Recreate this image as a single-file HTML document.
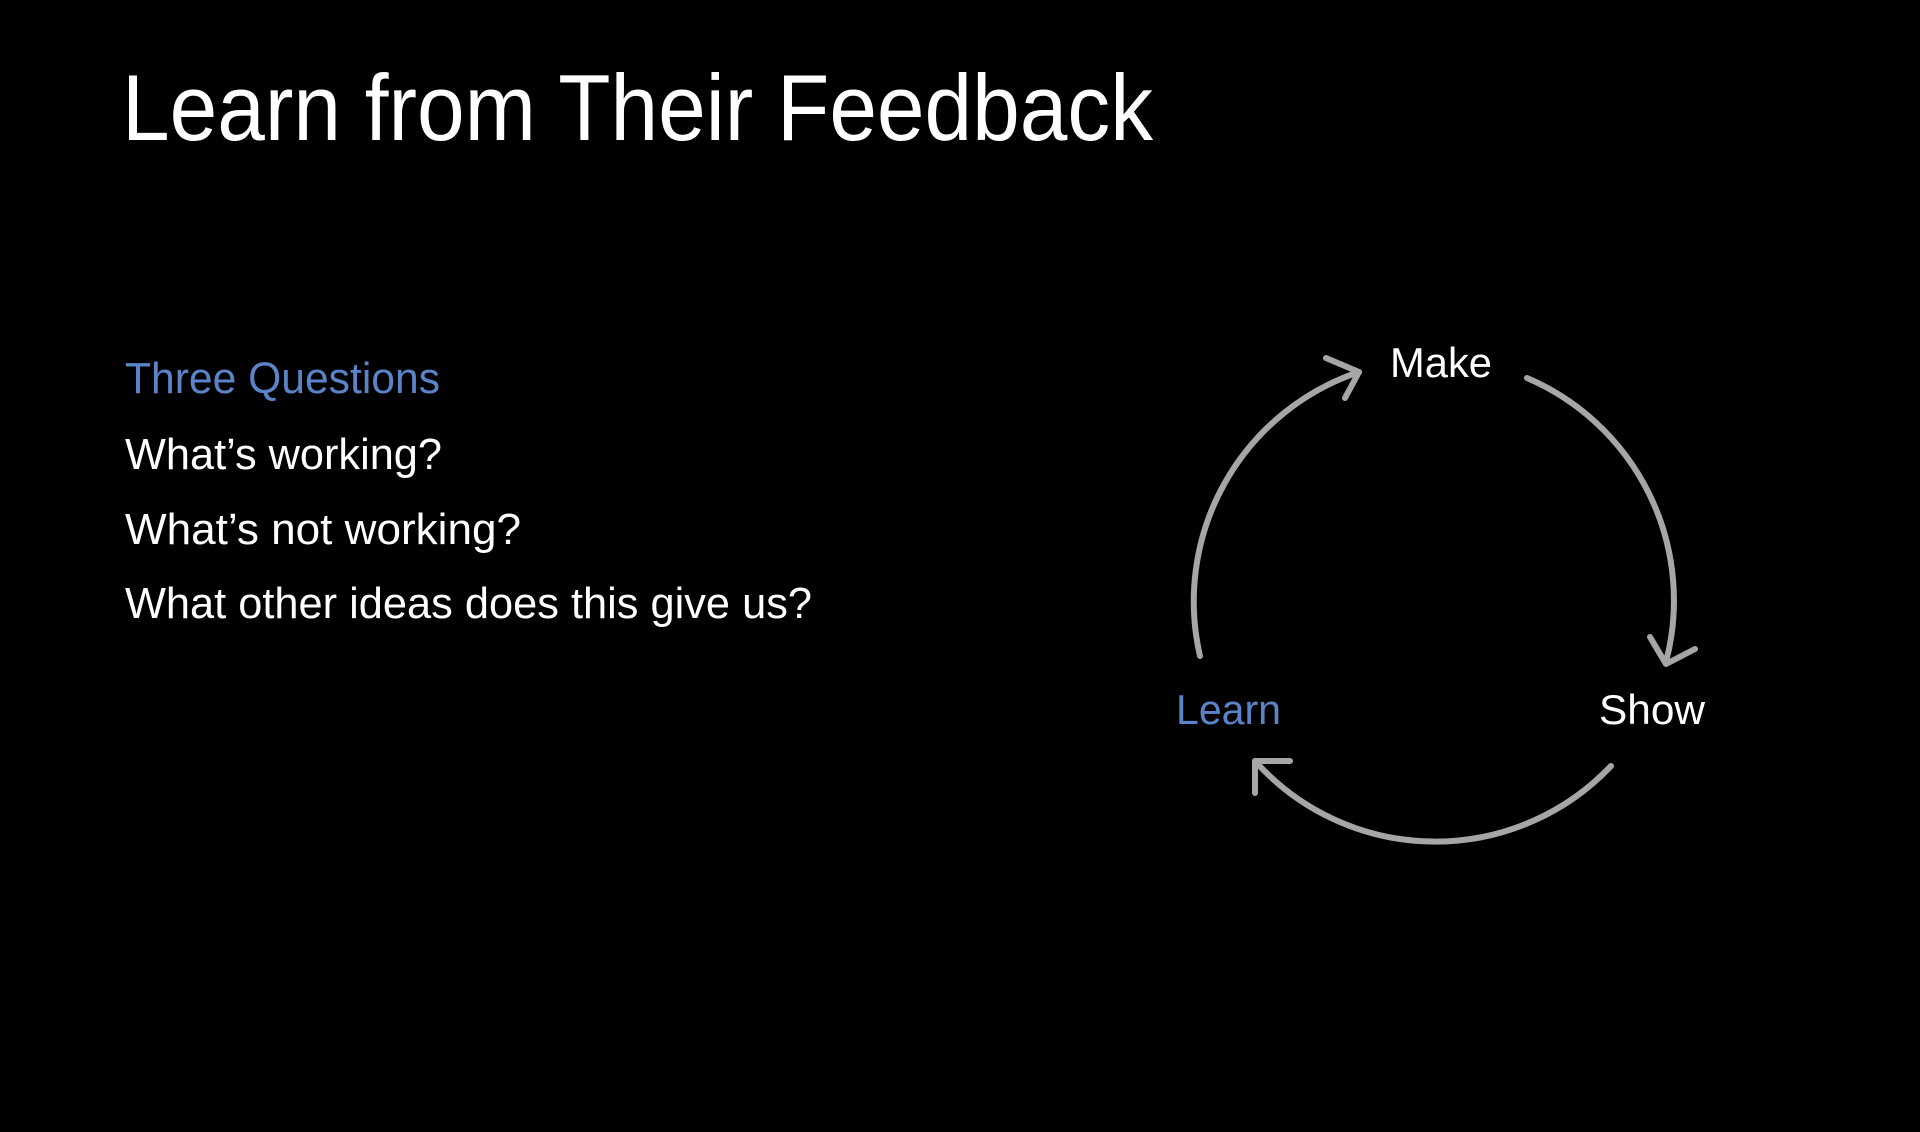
<!DOCTYPE html>
<html><head><meta charset="utf-8"><style>
html,body{margin:0;padding:0;background:#000;}
svg{display:block}
text{font-family:"Liberation Sans",sans-serif;}
</style></head><body>
<svg width="1920" height="1132" viewBox="0 0 1920 1132" xmlns="http://www.w3.org/2000/svg">
<rect width="1920" height="1132" fill="#000"/>
<text x="122" y="140" font-size="94" fill="#fff" textLength="1031" lengthAdjust="spacingAndGlyphs">Learn from Their Feedback</text>
<text x="125" y="393" font-size="44" fill="#5b84c8" textLength="315" lengthAdjust="spacingAndGlyphs">Three Questions</text>
<text x="125" y="469" font-size="44" fill="#fff" textLength="317" lengthAdjust="spacingAndGlyphs">What’s working?</text>
<text x="125" y="544" font-size="44" fill="#fff" textLength="396" lengthAdjust="spacingAndGlyphs">What’s not working?</text>
<text x="125" y="618" font-size="44" fill="#fff" textLength="687" lengthAdjust="spacingAndGlyphs">What other ideas does this give us?</text>

<text x="1390" y="377" font-size="42" fill="#fff" textLength="102" lengthAdjust="spacingAndGlyphs">Make</text>
<text x="1599" y="724" font-size="42" fill="#fff" textLength="106" lengthAdjust="spacingAndGlyphs">Show</text>
<text x="1176" y="724" font-size="42" fill="#5b84c8" textLength="105" lengthAdjust="spacingAndGlyphs">Learn</text>

<g fill="none" stroke="#a6a6a6" stroke-width="6" stroke-linecap="round" stroke-linejoin="round">
<path d="M1200 656 A242 242 0 0 1 1359 372"/>
<path d="M1326 358 L1359 372 L1345 398"/>
<path d="M1527 378 A242 242 0 0 1 1666 662"/>
<path d="M1650 637 L1666 664 L1695 649"/>
<path d="M1611 766 A242 242 0 0 1 1255 761"/>
<path d="M1290 761 L1255 761 L1255 793"/>
</g>
</svg>
</body></html>
